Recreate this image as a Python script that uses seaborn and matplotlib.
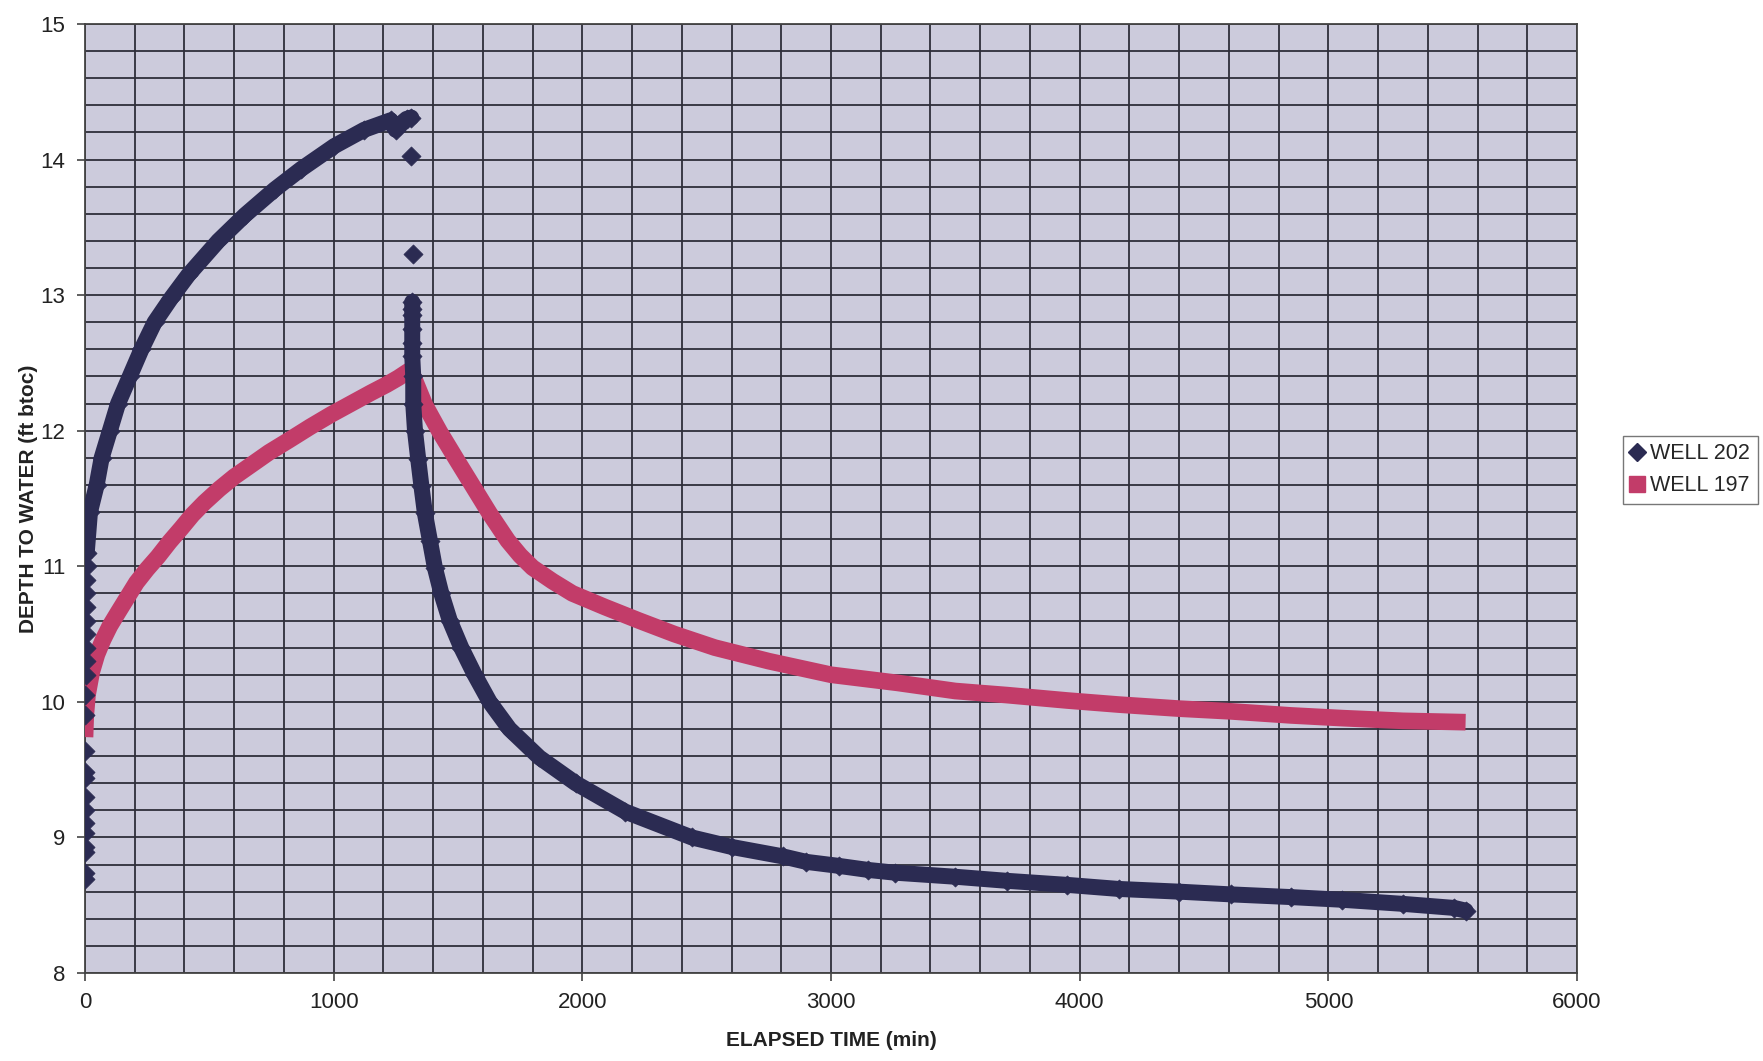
import numpy as np
import pandas as pd
import seaborn as sns
import matplotlib
matplotlib.use("Agg")
import matplotlib.pyplot as plt
from matplotlib.lines import Line2D

# ---------------- data ----------------
# WELL 202 segments: 0 = initial column at t~0 (points only),
# 1 = drawdown curve, 2 = isolated points at pump stop, 3 = recovery
w202_t = [0, 0, 0, 0, 0, 0, 0, 0, 0, 0, 0,
          2, 2, 3, 3, 4, 4, 5, 5, 6, 6, 7,
          7, 20, 47, 67, 100, 133, 180, 227, 280, 347, 416, 536, 643, 763,
          869, 1003, 1123, 1229, 1249, 1280, 1293, 1312,
          1312, 1320,
          1316, 1316, 1316, 1316, 1316, 1316, 1320, 1320, 1327, 1340, 1353, 1367,
          1387, 1407, 1433, 1467, 1513, 1567, 1627, 1707, 1827, 1973, 2173, 2440,
          2600, 2807, 2900, 3032, 3150, 3257, 3500, 3707, 3950, 4157, 4400, 4607,
          4850, 5056, 5300, 5506, 5552]
w202_y = [8.69, 8.74, 8.89, 8.93, 9.03, 9.11, 9.20, 9.30, 9.44, 9.48, 9.64,
          9.90, 10.05, 10.20, 10.30, 10.40, 10.50, 10.60, 10.70, 10.80, 10.90, 11.00,
          11.10, 11.40, 11.60, 11.80, 12.00, 12.20, 12.40, 12.60, 12.80, 12.98, 13.15, 13.40, 13.59, 13.78,
          13.93, 14.10, 14.22, 14.29, 14.22, 14.28, 14.30, 14.31,
          14.03, 13.30,
          12.95, 12.90, 12.85, 12.75, 12.65, 12.55, 12.40, 12.20, 12.00, 11.79, 11.59, 11.39,
          11.19, 10.99, 10.80, 10.60, 10.40, 10.20, 10.00, 9.80, 9.59, 9.40, 9.19, 9.00,
          8.93, 8.86, 8.82, 8.79, 8.76, 8.74, 8.71, 8.68, 8.65, 8.62, 8.60, 8.58,
          8.56, 8.54, 8.51, 8.48, 8.46]
w202_seg = [0] * 22 + [1] * 22 + [2] * 2 + [3] * 41

w197_t = [0, 3, 10, 27, 48, 73, 100, 133, 170, 207, 250, 293, 340, 387, 432, 480,
          540, 600, 670, 740, 820, 907, 990, 1080, 1150, 1213, 1260, 1293, 1310,
          1320, 1367, 1427, 1493, 1560, 1627, 1700, 1750, 1800, 1880, 1960, 2090,
          2227, 2370, 2533, 2750, 3000, 3267, 3500, 3707, 3950, 4157, 4400, 4607,
          4850, 5056, 5300, 5552]
w197_y = [9.74, 9.90, 10.05, 10.22, 10.35, 10.46, 10.56, 10.66, 10.77, 10.88, 10.98, 11.07,
          11.18, 11.28, 11.38, 11.47, 11.57, 11.66, 11.75, 11.84, 11.93, 12.03, 12.12, 12.21,
          12.28, 12.34, 12.39, 12.43, 12.45,
          12.40, 12.19, 11.99, 11.79, 11.59, 11.39, 11.19, 11.08, 10.99, 10.89, 10.80, 10.70,
          10.60, 10.50, 10.40, 10.30, 10.20, 10.14, 10.08, 10.05, 10.01, 9.98, 9.95, 9.93,
          9.90, 9.88, 9.86, 9.85]

series_names = ["WELL 202", "WELL 197"]
x_ticks = [0, 1000, 2000, 3000, 4000, 5000, 6000]
y_ticks = [8, 9, 10, 11, 12, 13, 14, 15]

NAVY = "#2b2b52"
RED = "#c23c69"

df202 = pd.DataFrame({"t": w202_t, "y": w202_y, "seg": w202_seg})
df197 = pd.DataFrame({"t": w197_t, "y": w197_y})

# ---------------- figure ----------------
sns.set_theme(style="white")
plt.rcParams["font.family"] = ["Liberation Sans", "DejaVu Sans"]

fig = plt.figure(figsize=(17.63, 10.61), dpi=100)
ax = fig.add_axes([85 / 1763, 1 - 973 / 1061, 1492 / 1763, 949 / 1061])
ax.set_facecolor("#cccbdc")

# red series (thick line)
sns.lineplot(data=df197, x="t", y="y", ax=ax, color=RED, lw=12, sort=False,
             estimator=None, solid_capstyle="butt", solid_joinstyle="round",
             zorder=3, legend=False)

# navy series: lines for continuous parts, diamonds for all points
lines_df = df202[df202["seg"].isin([1, 3])]
sns.lineplot(data=lines_df, x="t", y="y", units="seg", estimator=None, sort=False,
             ax=ax, color=NAVY, lw=11.5, solid_joinstyle="round", zorder=4, legend=False)
sns.scatterplot(data=df202, x="t", y="y", ax=ax, color=NAVY, marker="D", s=95,
                edgecolor=NAVY, linewidth=0.5, zorder=5, legend=False)

ax.set_xlim(0, 6000)
ax.set_ylim(8, 15)
ax.set_xticks(x_ticks)
ax.set_yticks(y_ticks)
ax.set_xticks(np.arange(0, 6001, 200), minor=True)
ax.set_yticks(np.arange(8, 15.01, 0.2), minor=True)
ax.grid(which="both", color="#2e2e3a", lw=1.3, zorder=1)
ax.set_axisbelow(True)
ax.tick_params(which="major", direction="out", length=6, width=1.2, color="#444444",
               labelsize=16, labelcolor="#222222", bottom=True, left=True, pad=8)
ax.tick_params(which="minor", length=0)
for s in ax.spines.values():
    s.set_color("#444444")
    s.set_linewidth(1.3)

ax.set_xlabel("ELAPSED TIME (min)", fontsize=15, fontweight="bold", color="#222222")
ax.set_ylabel("DEPTH TO WATER (ft btoc)", fontsize=15, fontweight="bold", color="#222222")
ax.xaxis.set_label_coords(0.5, -0.071)
ax.yaxis.set_label_coords(-0.038, 0.5)
ax.xaxis.label.set_va("center")
ax.yaxis.label.set_va("center")

handles = [Line2D([], [], ls="none", marker="D", color=NAVY, markersize=9),
           Line2D([], [], ls="none", marker="s", color=RED, markersize=12)]
leg = ax.legend(handles, series_names, loc="upper left", bbox_to_anchor=(1.031, 0.566),
                frameon=True, fancybox=False, fontsize=15.5, handlelength=0.6,
                handletextpad=0.3, borderpad=0.35, labelspacing=0.5, borderaxespad=0)
leg.get_frame().set_edgecolor("#555555")
leg.get_frame().set_linewidth(1.0)

fig.savefig("out.png", dpi=100, facecolor="white")
